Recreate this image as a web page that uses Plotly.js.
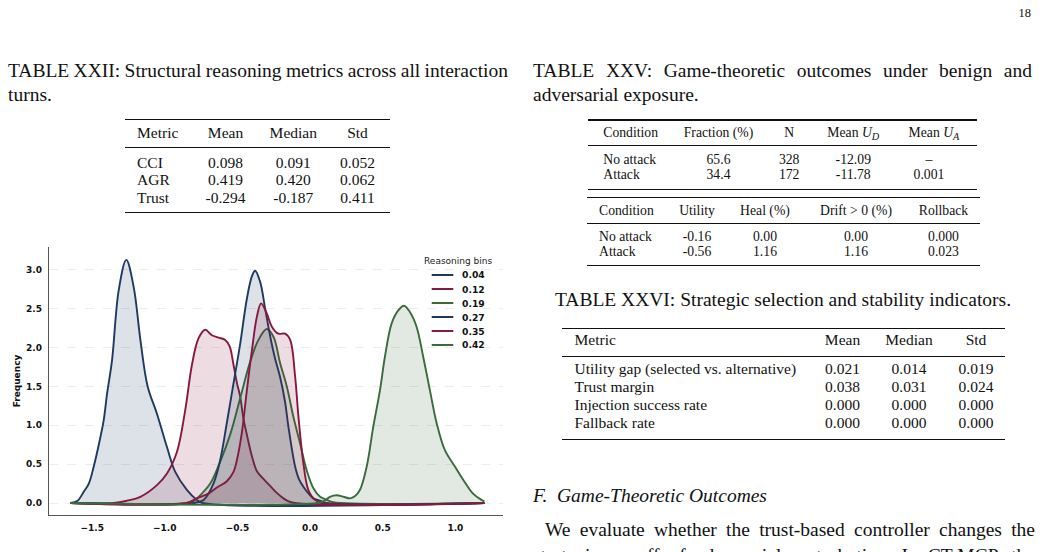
<!DOCTYPE html>
<html><head><meta charset="utf-8">
<script src="https://cdn.plot.ly/plotly-3.0.1.min.js"></script>
<style>
html,body{margin:0;padding:0;background:#fff;}
body{width:1041px;height:552px;overflow:hidden;position:relative;font-family:"Liberation Serif","Times New Roman",serif;color:#111;}
.t{position:absolute;white-space:nowrap;line-height:1.2;}
.rule{position:absolute;background:#111;}
#chart{position:absolute;left:0;top:240px;width:510px;height:312px;}
sub{font-size:0.75em;vertical-align:-0.3em;line-height:0;}
</style></head><body>
<div id="chart"></div>
<script>
// ---------------- chart data ----------------
const bins = ['0.04','0.12','0.19','0.27','0.35','0.42'];
const binColors = ['#1e3a64','#85193f','#3a6b3c','#1e3a64','#85193f','#3a6b3c'];

const kdeX_004 = [-1.65,-1.60,-1.558,-1.523,-1.489,-1.443,-1.42,-1.397,-1.363,-1.317,-1.265,-1.214,-1.168,-1.118,-1.054,-0.985,-0.928,-0.848,-0.779,-0.74,1.20];
const kdeY_004 = [0,0.03,0.145,0.25,0.47,0.85,1.07,1.41,1.84,2.74,3.13,2.78,2.10,1.50,1.15,0.72,0.40,0.17,0.04,0,0];

const kdeX_012 = [-1.65,-1.35,-1.26,-1.168,-1.054,-0.985,-0.916,-0.859,-0.813,-0.768,-0.722,-0.676,-0.63,-0.584,-0.554,-0.527,-0.504,-0.481,-0.458,-0.435,-0.40,-0.366,-0.321,-0.275,-0.229,-0.183,-0.13,1.20];
const kdeY_012 = [0,0,0.03,0.08,0.23,0.38,0.66,1.20,1.78,2.12,2.23,2.16,2.13,2.10,2.02,1.78,1.55,1.37,1.08,0.88,0.60,0.41,0.31,0.22,0.13,0.06,0.01,0];

const kdeX_019 = [-1.65,-0.85,-0.80,-0.756,-0.687,-0.619,-0.55,-0.481,-0.412,-0.355,-0.298,-0.252,-0.206,-0.16,-0.115,-0.069,-0.023,0.023,0.069,0.115,0.16,1.20];
const kdeY_019 = [0,0,0.03,0.10,0.25,0.53,0.88,1.35,1.82,2.10,2.24,2.14,1.80,1.50,1.11,0.77,0.42,0.19,0.08,0.04,0.01,0];

const kdeX_027 = [-1.65,-0.80,-0.733,-0.665,-0.619,-0.573,-0.527,-0.481,-0.435,-0.40,-0.378,-0.344,-0.309,-0.275,-0.241,-0.206,-0.172,-0.149,-0.103,-0.075,-0.046,-0.01,0.023,0.069,0.11,1.20];
const kdeY_027 = [0,0,0.04,0.25,0.55,1.03,1.54,2.05,2.63,2.92,2.99,2.85,2.50,2.15,1.86,1.62,1.30,0.98,0.47,0.30,0.21,0.12,0.06,0.03,0,0];

const kdeX_035 = [-1.65,-0.85,-0.78,-0.70,-0.641,-0.573,-0.527,-0.504,-0.47,-0.435,-0.40,-0.366,-0.337,-0.298,-0.263,-0.218,-0.172,-0.137,-0.103,-0.08,-0.046,-0.012,0.034,0.08,1.20];
const kdeY_035 = [0,0,0.06,0.12,0.20,0.28,0.40,0.55,0.90,1.45,1.97,2.40,2.57,2.44,2.27,2.18,2.18,2.10,1.63,1.11,0.51,0.17,0.04,0,0];

const kdeX_042 = [-1.65,0.05,0.10,0.137,0.183,0.23,0.275,0.31,0.344,0.39,0.435,0.481,0.515,0.561,0.607,0.646,0.687,0.733,0.779,0.825,0.871,0.928,0.997,1.054,1.122,1.18,1.20];
const kdeY_042 = [0,0,0.03,0.08,0.10,0.08,0.06,0.09,0.17,0.47,0.98,1.45,1.88,2.31,2.48,2.54,2.46,2.27,1.88,1.45,1.03,0.68,0.47,0.30,0.12,0.04,0.02];

const xTickVals = [-1.5,-1.0,-0.5,0.0,0.5,1.0];
const xTickText = ['\u22121.5','\u22121.0','\u22120.5','0.0','0.5','1.0'];
const yTickVals = [0,0.5,1.0,1.5,2.0,2.5,3.0];
const yTickText = ['0.0','0.5','1.0','1.5','2.0','2.5','3.0'];
const yTitle = 'Frequency';
const legendTitle = 'Reasoning bins';

// ---------------- table / page text ----------------
const pageNumber = '18';
const cap22 = ['TABLE XXII: Structural reasoning metrics across all interaction','turns.'];
const t22Head = ['Metric','Mean','Median','Std'];
const t22Rows = [['CCI','0.098','0.091','0.052'],['AGR','0.419','0.420','0.062'],['Trust','-0.294','-0.187','0.411']];
const cap25 = ['TABLE XXV: Game-theoretic outcomes under benign and','adversarial exposure.'];
const t25aHead = ['Condition','Fraction (%)','N','Mean <i>U</i><sub><i>D</i></sub>','Mean <i>U</i><sub><i>A</i></sub>'];
const t25aRows = [['No attack','65.6','328','-12.09','\u2013'],['Attack','34.4','172','-11.78','0.001']];
const t25bHead = ['Condition','Utility','Heal (%)','Drift &gt; 0 (%)','Rollback'];
const t25bRows = [['No attack','-0.16','0.00','0.00','0.000'],['Attack','-0.56','1.16','1.16','0.023']];
const cap26 = 'TABLE XXVI: Strategic selection and stability indicators.';
const t26Head = ['Metric','Mean','Median','Std'];
const t26Rows = [['Utility gap (selected vs. alternative)','0.021','0.014','0.019'],['Trust margin','0.038','0.031','0.024'],['Injection success rate','0.000','0.000','0.000'],['Fallback rate','0.000','0.000','0.000']];
const secHeading = 'F.&nbsp; Game-Theoretic Outcomes';
const para = ['We evaluate whether the trust-based controller changes the','strategic payoff of adversarial perturbation. In CT-MCP, the'];

// ---------------- helpers ----------------
function txt(s,x,base,fs,align,extra){
  const d=document.createElement('div'); d.className='t'; d.innerHTML=s;
  d.style.fontSize=fs+'px'; d.style.top=(base-0.9375*fs)+'px'; d.style.left=x+'px';
  if(align==='center') d.style.transform='translateX(-50%)';
  else if(align==='right') d.style.transform='translateX(-100%)';
  if(extra) Object.assign(d.style,extra);
  document.body.appendChild(d); return d;
}
function jline(s,x1,x2,base,fs,extra){
  const d=txt(s,x1,base,fs,'left',extra);
  const w=d.getBoundingClientRect().width;
  const n=(s.match(/ /g)||[]).length;
  if(n>0) d.style.wordSpacing=((x2-x1-w)/n)+'px';
  return d;
}
function rule(x1,x2,y,h){
  const r=document.createElement('div'); r.className='rule';
  r.style.left=x1+'px'; r.style.width=(x2-x1)+'px'; r.style.top=(y-h/2)+'px'; r.style.height=h+'px';
  document.body.appendChild(r);
}
const CAPFS=19.5;

// page number
txt(pageNumber,1031,17.5,12.5,'right');

// Table XXII
jline(cap22[0],8,508,77.5,CAPFS);
txt(cap22[1],8,101,CAPFS,'left');
(function(){
  const fs=15.5, cols=[137,225.5,293.3,357.5];
  rule(125,390,119.3,1.4); rule(125,390,147.3,0.9); rule(125,390,212.7,1.4);
  t22Head.forEach((h,i)=>txt(h,cols[i],139,fs,i===0?'left':'center'));
  const bases=[168.3,186,203.3];
  t22Rows.forEach((r,j)=>r.forEach((c,i)=>txt(c,cols[i],bases[j],fs,i===0?'left':'center')));
})();

// Table XXV
jline(cap25[0],533,1032,77.5,CAPFS);
txt(cap25[1],533,101,CAPFS,'left');
(function(){
  const fs=13.7;
  const colsA=[603.3,718.5,789.2,853.3,929];
  rule(588,977,120,1.4); rule(588,977,145.7,0.9); rule(588,977,189.3,1.4);
  t25aHead.forEach((h,i)=>txt(h,i===4?934:colsA[i],137.7,fs,i===0?'left':'center'));
  const basesA=[165,180];
  t25aRows.forEach((r,j)=>r.forEach((c,i)=>txt(c,colsA[i],basesA[j],fs,i===0?'left':'center')));
  const colsB=[599,697,765,856,943.5];
  rule(587,980,197.7,1.4); rule(587,980,223.3,0.9); rule(587,980,265.7,1.4);
  t25bHead.forEach((h,i)=>txt(h,colsB[i],215.7,fs,i===0?'left':'center'));
  const basesB=[241.7,257];
  t25bRows.forEach((r,j)=>r.forEach((c,i)=>txt(c,colsB[i],basesB[j],fs,i===0?'left':'center')));
})();

// Table XXVI
txt(cap26,783,306.5,CAPFS,'center');
(function(){
  const fs=15.5, cols=[574.5,842.5,909,976];
  rule(562,1005,328.3,1.4); rule(562,1005,356,0.9); rule(562,1005,439.3,1.4);
  t26Head.forEach((h,i)=>txt(h,cols[i],346,fs,i===0?'left':'center'));
  const bases=[374.7,392.7,410.7,429];
  t26Rows.forEach((r,j)=>r.forEach((c,i)=>txt(c,cols[i],bases[j],fs,i===0?'left':'center')));
})();

// Section text
txt(secHeading,533,502.5,CAPFS,'left',{fontStyle:'italic'});
jline(para[0],545,1035,536,CAPFS);
jline(para[1],533,1035,562,CAPFS);

// ---------------- chart ----------------
const seriesX=[kdeX_004,kdeX_012,kdeX_019,kdeX_027,kdeX_035,kdeX_042];
const seriesY=[kdeY_004,kdeY_012,kdeY_019,kdeY_027,kdeY_035,kdeY_042];
function rgba(hex,a){const n=parseInt(hex.slice(1),16);return 'rgba('+(n>>16)+','+((n>>8)&255)+','+(n&255)+','+a+')';}
const traces=bins.map((b,i)=>({
  type:'scatter',mode:'lines',name:b,x:seriesX[i],y:seriesY[i],
  line:{color:binColors[i],width:1.9,shape:'spline',smoothing:1},
  fill:'tozeroy',fillcolor:rgba(binColors[i],0.15),showlegend:false,hoverinfo:'skip'
}));

const L=49,T=7,R=7,B=37,W=510,H=312;
const pw=W-L-R, ph=H-T-B;
function pyPaper(pageY){return ((240+H-B)-pageY)/ph;}
const shapes=[],annotations=[];
annotations.push({xref:'paper',yref:'paper',x:(458-L)/pw,y:pyPaper(260.7),text:legendTitle,showarrow:false,
  xanchor:'center',yanchor:'middle',font:{family:'DejaVu Sans',size:9,color:'#222'}});
bins.forEach((b,i)=>{
  const yy=pyPaper(275+i*14);
  shapes.push({type:'line',xref:'paper',yref:'paper',x0:(431.7-L)/pw,x1:(453.3-L)/pw,y0:yy,y1:yy,
    line:{color:binColors[i],width:2}});
  annotations.push({xref:'paper',yref:'paper',x:(459.5-L)/pw,y:yy,text:'<b>'+b+'</b>',showarrow:false,
    xanchor:'left',yanchor:'middle',font:{family:'DejaVu Sans',size:9.2,color:'#111'}});
});

const layout={
  width:W,height:H,margin:{l:L,r:R,t:T,b:B,pad:0},
  paper_bgcolor:'#fff',plot_bgcolor:'#fff',
  font:{family:'DejaVu Sans',size:9,color:'#111'},
  showlegend:false,
  xaxis:{range:[-1.797,1.328],tickmode:'array',tickvals:xTickVals,ticktext:xTickText,
    showline:true,linecolor:'#555',linewidth:1.2,showgrid:false,zeroline:false,
    ticks:'outside',ticklen:4,tickcolor:'rgba(0,0,0,0)',
    tickfont:{family:'DejaVu Sans',size:9,weight:'bold',color:'#111'}},
  yaxis:{range:[-0.1545,3.296],tickmode:'array',tickvals:yTickVals,ticktext:yTickText,
    showline:true,linecolor:'#555',linewidth:1.2,showgrid:true,gridcolor:'#e8e8e8',griddash:'dash',gridwidth:0.8,
    zeroline:false,ticks:'outside',ticklen:4,tickcolor:'rgba(0,0,0,0)',
    tickfont:{family:'DejaVu Sans',size:9,weight:'bold',color:'#111'},
    title:{text:yTitle,font:{family:'DejaVu Sans',size:9,weight:'bold',color:'#111'},standoff:3}},
  shapes:shapes,annotations:annotations
};
Plotly.newPlot('chart',traces,layout,{staticPlot:true,displayModeBar:false});
</script>
</body></html>
